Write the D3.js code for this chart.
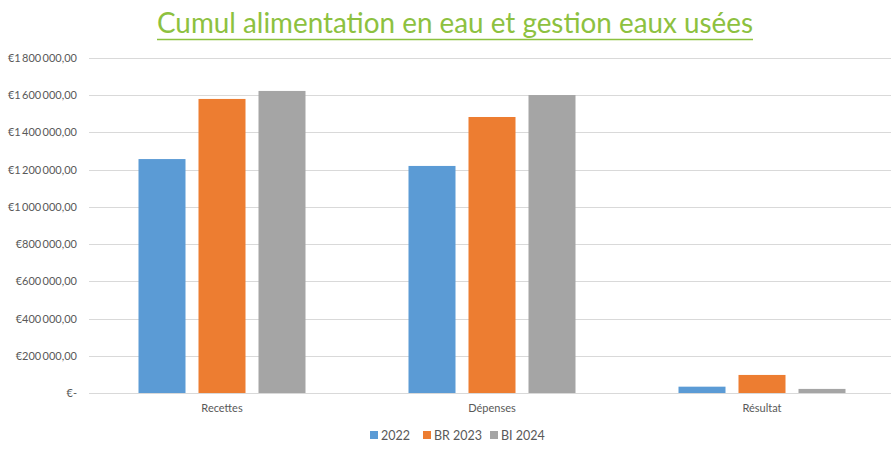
<!DOCTYPE html>
<html><head><meta charset="utf-8">
<script src="https://cdn.jsdelivr.net/npm/d3@7"></script>
<style>body{margin:0;background:#fff;} svg{display:block;font-family:Lato,"Open Sans",sans-serif;}</style>
</head><body><svg id="c" width="891" height="451"></svg>
<script>
const categories = ["Recettes", "Dépenses", "Résultat"];
const seriesNames = ["2022", "BR 2023", "BI 2024"];
const values2022 = [1257000, 1220000, 34000];
const valuesBR2023 = [1580000, 1483000, 97000];
const valuesBI2024 = [1623000, 1601000, 22000];
const yTicks = [0, 200000, 400000, 600000, 800000, 1000000, 1200000, 1400000, 1600000, 1800000];
const colors = ["#5B9BD5", "#ED7D31", "#A5A5A5"];
const seriesValues = [values2022, valuesBR2023, valuesBI2024];

const svg = d3.select("#c");
const y = d3.scaleLinear().domain([0, 1800000]).range([393, 58]);
const x0 = d3.scaleBand().domain(categories).range([87, 897]).padding(0);
const x1 = d3.scaleBand().domain(seriesNames).range([0, 167]).paddingInner(0.2167).paddingOuter(0);
const groupOffset = (x0.bandwidth() - 167) / 2;

function fmt(v) {
  if (v === 0) return "€-";
  const s = d3.format(",.2f")(v).replace(/,/g, "\u2009").replace(".", ",");
  return "€" + s;
}

// gridlines
svg.append("g").selectAll("line").data(yTicks).join("line")
  .attr("x1", 89).attr("x2", 891)
  .attr("y1", d => Math.round(y(d)) + 0.5).attr("y2", d => Math.round(y(d)) + 0.5)
  .attr("stroke", "#D9D9D9").attr("stroke-width", 1);

// y axis labels
const yAxis = d3.axisLeft(y).tickValues(yTicks).tickFormat(fmt).tickSize(0).tickPadding(0);
const ga = svg.append("g").attr("transform", "translate(77,0)").call(yAxis);
ga.select(".domain").remove();
ga.selectAll("text").attr("fill", "#595959").style("font-size", "11px").style("font-family", "Lato,sans-serif");

// bars
const groups = svg.append("g").selectAll("g").data(categories).join("g")
  .attr("transform", d => `translate(${x0(d) + groupOffset},0)`);
groups.selectAll("rect").data((d, i) => seriesNames.map((s, j) => ({s, v: seriesValues[j][i], j})))
  .join("rect")
  .attr("x", d => x1(d.s)).attr("width", x1.bandwidth())
  .attr("y", d => y(d.v)).attr("height", d => y(0) - y(d.v))
  .attr("fill", d => colors[d.j]);

// x axis labels
const xAxis = d3.axisBottom(x0).tickSize(0).tickPadding(0);
const gx = svg.append("g").attr("transform", "translate(0,404)").call(xAxis);
gx.select(".domain").remove();
gx.selectAll("text").attr("fill", "#595959").style("font-size", "11px").style("font-family", "Lato,sans-serif");

// title
svg.append("text").attr("x", 455).attr("y", 33).attr("text-anchor", "middle")
  .attr("fill", "#8DC13F").style("font-size", "28px").style("font-family", "Lato,sans-serif")
  .attr("textLength", 596).attr("lengthAdjust", "spacingAndGlyphs")
  .text("Cumul alimentation en eau et gestion eaux usées");
svg.append("line").attr("x1", 157).attr("x2", 753).attr("y1", 39.5).attr("y2", 39.5)
  .attr("stroke", "#8DC13F").attr("stroke-width", 1.5);

// legend
const legendX = [370, 423, 490];
const lg = svg.append("g").selectAll("g").data(seriesNames).join("g")
  .attr("transform", (d, i) => `translate(${legendX[i]},431)`);
lg.append("rect").attr("width", 8).attr("height", 8).attr("fill", (d, i) => colors[i]);
lg.append("text").attr("x", 11).attr("y", 9).text(d => d)
  .attr("fill", "#595959").style("font-size", "12.5px").style("font-family", "Lato,sans-serif");
</script></body></html>
